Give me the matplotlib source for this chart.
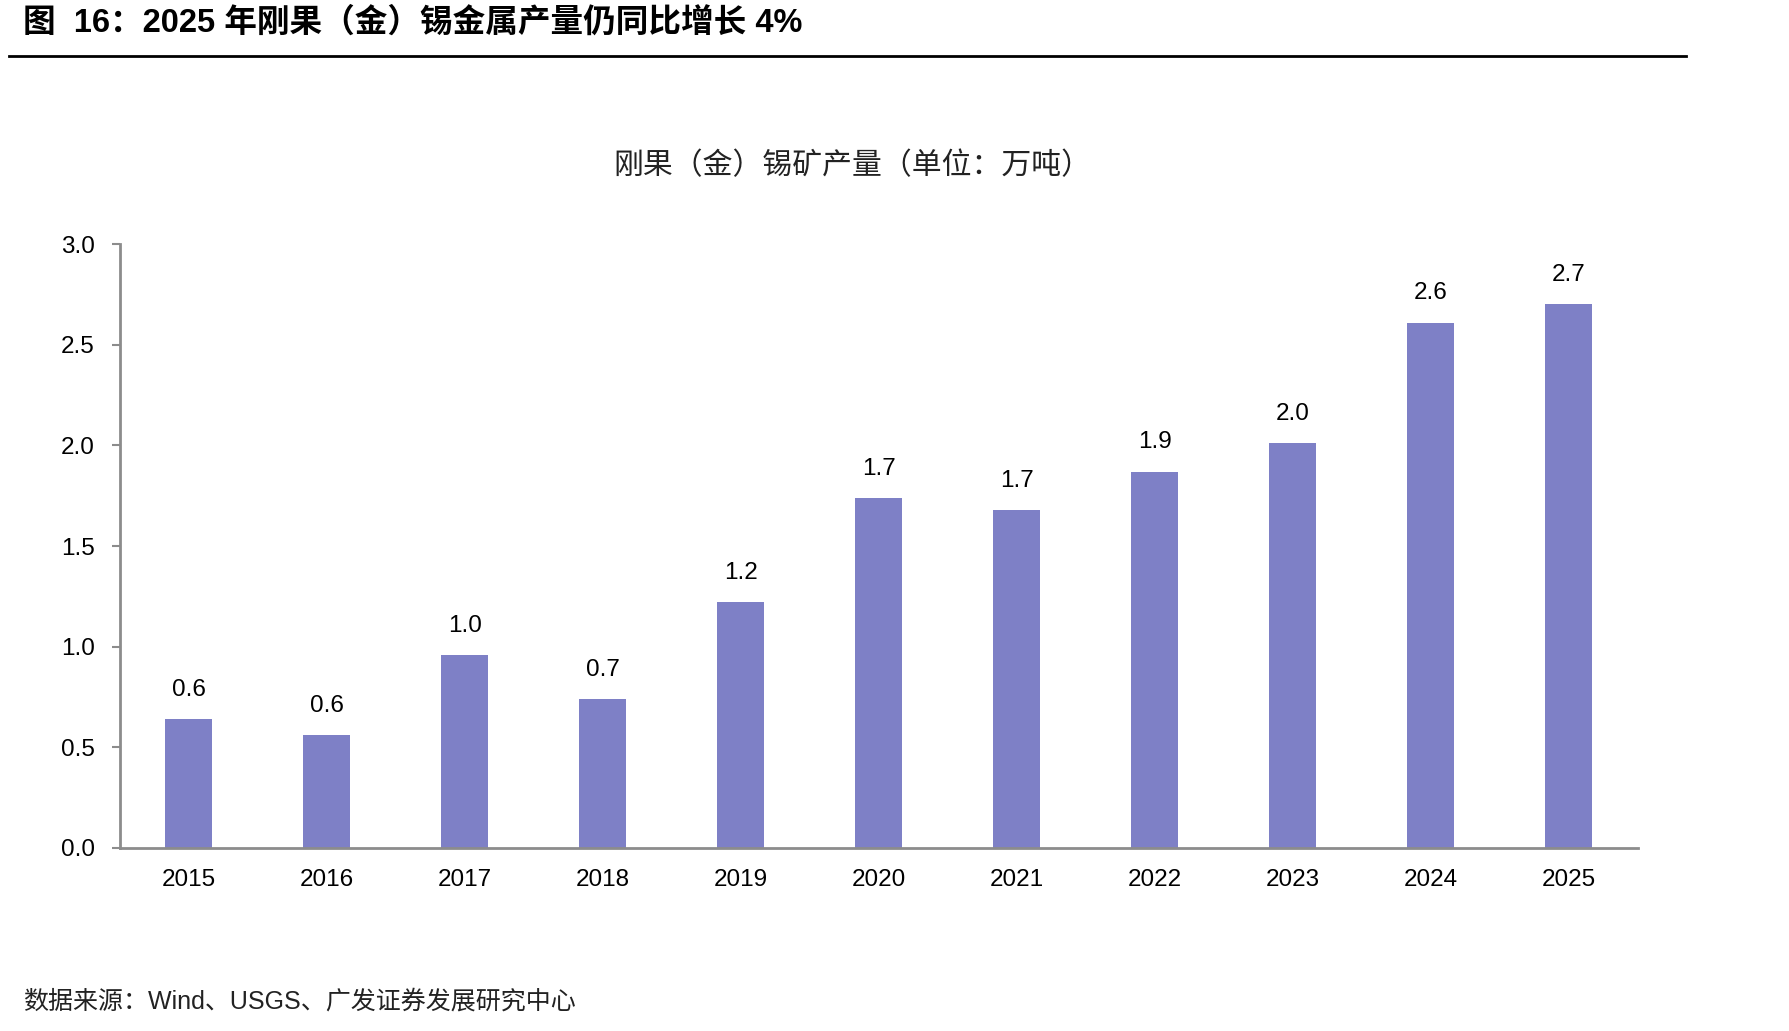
import matplotlib
matplotlib.use('Agg')
import matplotlib.pyplot as plt

plt.rcParams['font.family'] = ['Liberation Sans', 'Noto Sans CJK SC']

# data (万吨)
years = ['2015', '2016', '2017', '2018', '2019', '2020', '2021', '2022', '2023', '2024', '2025']
output = [0.64, 0.56, 0.96, 0.74, 1.22, 1.74, 1.68, 1.87, 2.01, 2.61, 2.70]

title = '图  16：2025 年刚果（金）锡金属产量仍同比增长 4%'
chart_title = '刚果（金）锡矿产量（单位：万吨）'
source = '数据来源：Wind、USGS、广发证券发展研究中心'
yticks = [0.0, 0.5, 1.0, 1.5, 2.0, 2.5, 3.0]

bar_color = '#7E80C6'
axis_gray = '#8C8C8C'

fig = plt.figure(figsize=(17.9, 10.31), dpi=100)
ax = fig.add_axes([0.067, 0.1775, 0.848, 0.5858])

x = range(len(years))
ax.bar(x, output, width=0.34, color=bar_color)
for xi, v in zip(x, output):
    ax.annotate(f'{v:.1f}', (xi, v), xytext=(0, 21), textcoords='offset points',
                ha='center', va='center', fontsize=17.5, color='black')

ax.set_xlim(-0.5, len(years) - 0.5)
ax.set_ylim(0, 3.0)
ax.set_xticks(list(x))
ax.set_xticklabels(years, fontsize=17.5)
ax.set_yticks(yticks)
ax.set_yticklabels([f'{t:.1f}' for t in yticks], fontsize=17.5)
ax.tick_params(axis='x', length=0, pad=15)
ax.tick_params(axis='y', length=6, width=1.5, color=axis_gray, pad=12)

for side in ['top', 'right']:
    ax.spines[side].set_visible(False)
for side in ['left', 'bottom']:
    ax.spines[side].set_color(axis_gray)
    ax.spines[side].set_linewidth(2)

fig.text(0.013, 0.978, title, fontsize=23.5, fontweight='bold', va='center', ha='left')
fig.add_artist(plt.Line2D([0.005, 0.942], [0.946, 0.946], color='black', linewidth=2))
fig.text(0.476, 0.839, chart_title, fontsize=21.5, va='center', ha='center', color='#222222')
fig.text(0.013, 0.029, source, fontsize=18, va='center', ha='left', color='#222222')

fig.savefig('out.png', dpi=100)
